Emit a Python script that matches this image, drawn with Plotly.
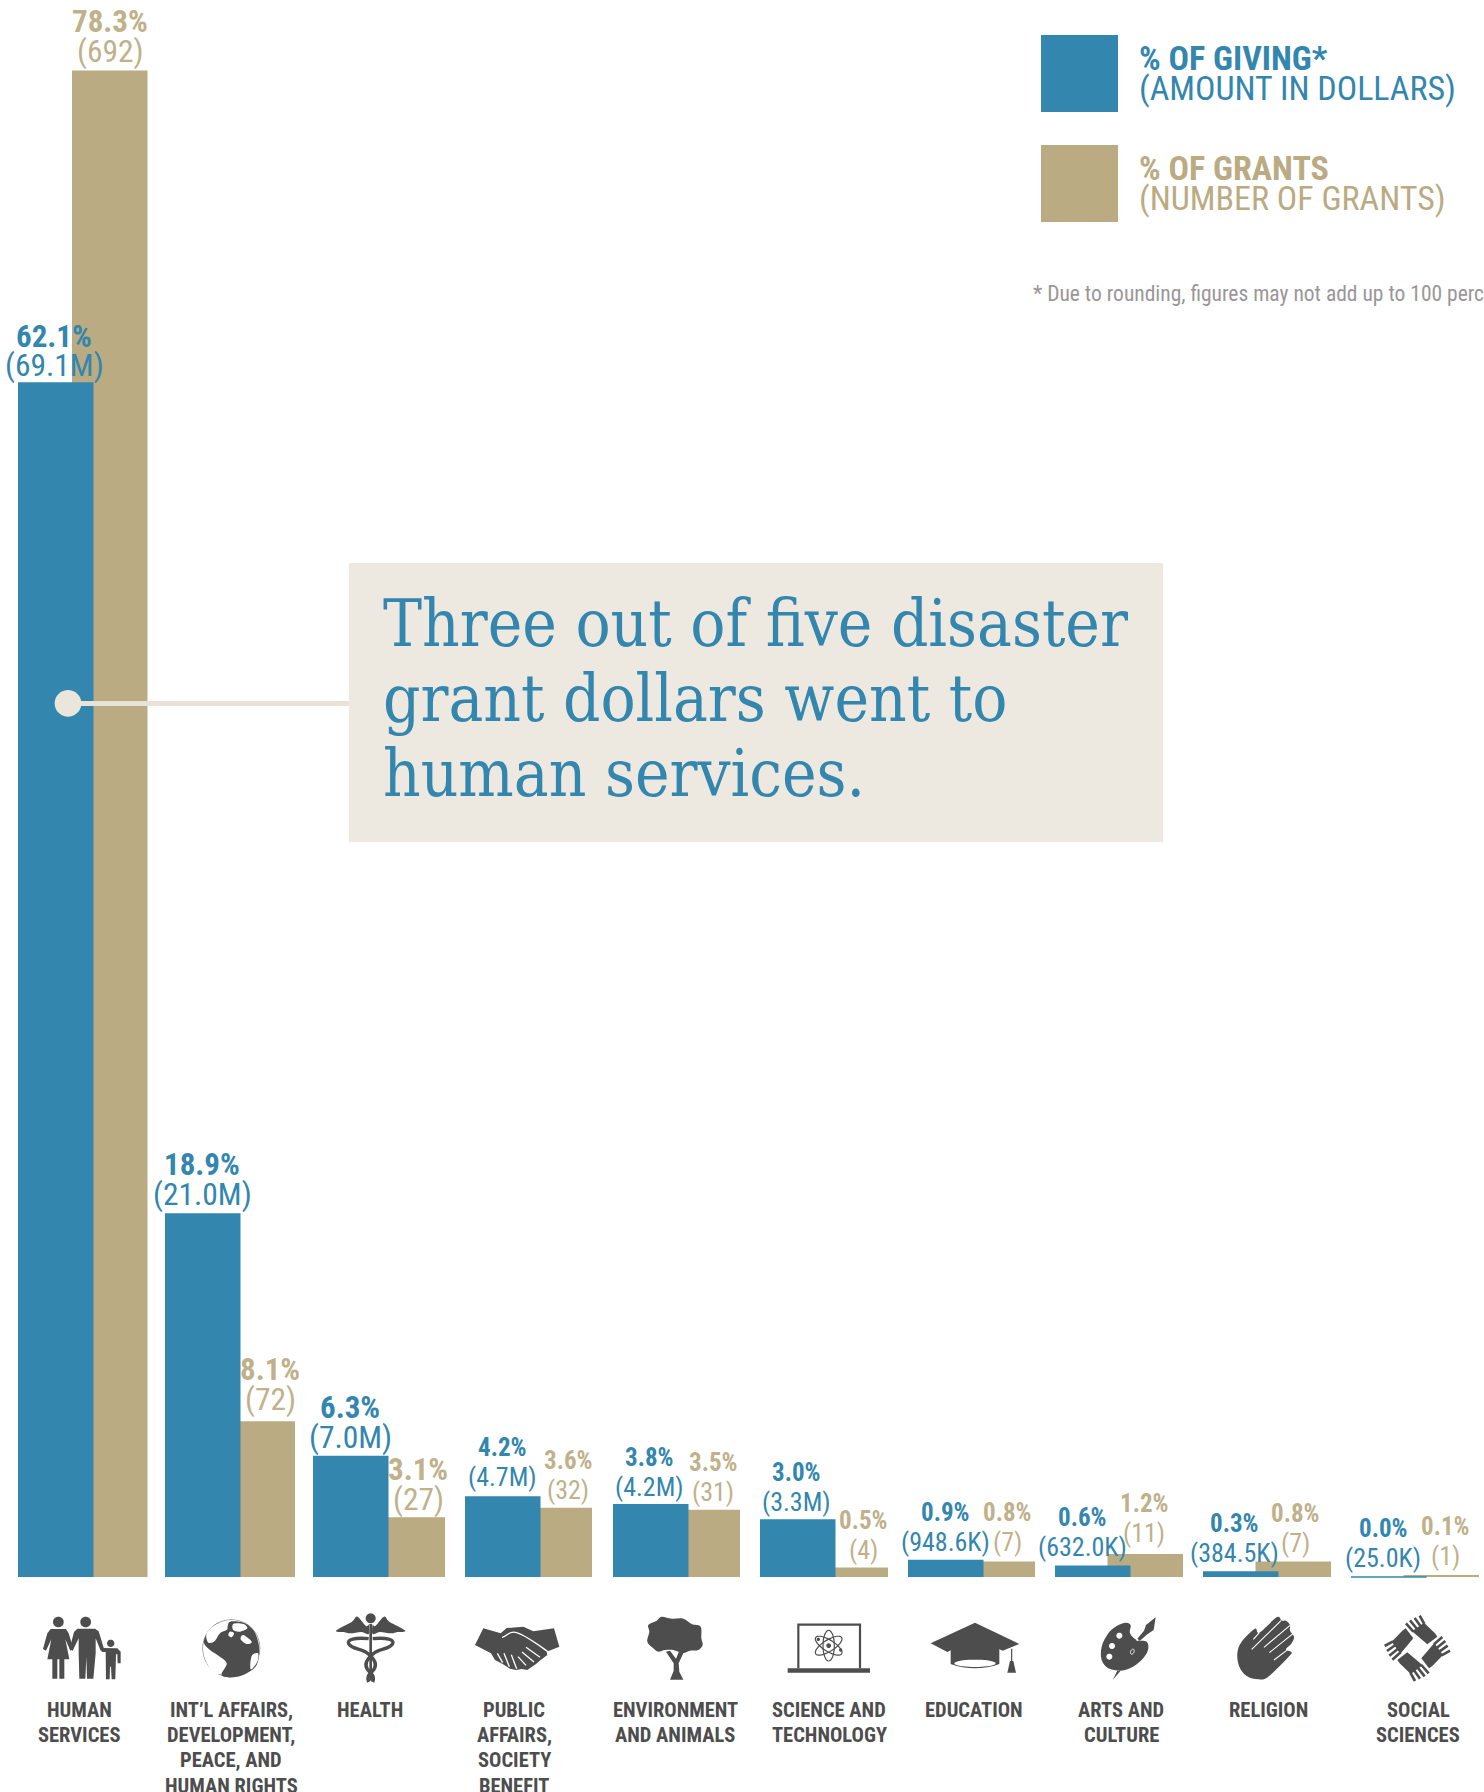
import math
import re
import plotly.graph_objects as go

# ---- Data -------------------------------------------------------------
categories = [
    ["HUMAN", "SERVICES"],
    ["INT\u2019L AFFAIRS,", "DEVELOPMENT,", "PEACE, AND", "HUMAN RIGHTS"],
    ["HEALTH"],
    ["PUBLIC", "AFFAIRS,", "SOCIETY", "BENEFIT"],
    ["ENVIRONMENT", "AND ANIMALS"],
    ["SCIENCE AND", "TECHNOLOGY"],
    ["EDUCATION"],
    ["ARTS AND", "CULTURE"],
    ["RELIGION"],
    ["SOCIAL", "SCIENCES"],
]
giving_pct = [62.1, 18.9, 6.3, 4.2, 3.8, 3.0, 0.9, 0.6, 0.3, 0.0]
grants_pct = [78.3, 8.1, 3.1, 3.6, 3.5, 0.5, 0.8, 1.2, 0.8, 0.1]
giving_amount = ["(69.1M)", "(21.0M)", "(7.0M)", "(4.7M)", "(4.2M)", "(3.3M)",
                 "(948.6K)", "(632.0K)", "(384.5K)", "(25.0K)"]
grants_count = ["(692)", "(72)", "(27)", "(32)", "(31)", "(4)", "(7)", "(11)", "(7)", "(1)"]

# ---- Page geometry ----------------------------------------------------
W, H = 1484, 1792
BASELINE_PX = 1577
PX_PER_PCT = 19.24
BAR_W = 75.5
blue_left = [18, 165, 313, 465, 613, 760, 908, 1055, 1203, 1351]
tan_right = [147.5, 295, 445, 592, 740, 888, 1035, 1183, 1331, 1479]
blue_label_x = [54, 202, 350, 502, 649, 797, 945, 1082, 1234, 1383]
tan_label_x = [110, 270, 418, 568, 713, 863, 1007, 1144, 1295, 1445]
blue_label_y = [336, 1164, 1407, 1447, 1457, 1472, 1512, 1517, 1523, 1528]
tan_label_y = [22, 1369, 1469, 1460, 1462, 1520, 1512, 1503, 1513, 1526]
label_big = [True, True, True, False, False, False, False, False, False, False]
category_x = [79, 231, 370, 514, 675, 829, 974, 1121, 1268, 1418]
category_y0 = 1710
category_step = 25.2

BLUE = "#3386ad"
TAN = "#baab82"
TAN_TEXT = "#c0b18b"
DARK = "#4d4d4d"
CREAM = "#ede8e0"
NARROW = "Roboto Condensed"
SLAB = "DejaVu Serif Condensed"


def px(x):
    return x / W


def py(y):
    return 1 - y / H


def icon_path(ox, oy, d):
    """Map an icon path drawn on a 3x grid with origin (ox, oy) onto paper coordinates."""
    out = []
    is_x = True
    for tok in re.findall(r"[MLCQZ]|-?\d+\.?\d*", d):
        if tok in "MLCQZ":
            out.append(tok)
            is_x = True
        elif is_x:
            out.append(f"{px(ox + float(tok) / 3):.6f}")
            is_x = False
        else:
            out.append(f"{py(oy + float(tok) / 3):.6f}")
            is_x = True
    s = ""
    i = 0
    while i < len(out):
        t = out[i]
        if t in "MLCQZ":
            s += t
            i += 1
        else:
            s += out[i] + "," + out[i + 1] + " "
            i += 2
    return s


def poly(points):
    return "M" + " L".join(f"{x} {y}" for x, y in points) + " Z"


def smooth(points):
    """Closed Catmull-Rom outline through the given points."""
    n = len(points)
    d = f"M{points[0][0]} {points[0][1]}"
    for i in range(n):
        p0, p1, p2, p3 = points[i - 1], points[i], points[(i + 1) % n], points[(i + 2) % n]
        c1 = (p1[0] + (p2[0] - p0[0]) / 6, p1[1] + (p2[1] - p0[1]) / 6)
        c2 = (p2[0] - (p3[0] - p1[0]) / 6, p2[1] - (p3[1] - p1[1]) / 6)
        d += f" C{c1[0]:.2f} {c1[1]:.2f} {c2[0]:.2f} {c2[1]:.2f} {p2[0]} {p2[1]}"
    return d + " Z"


def ellipse(cx, cy, rx, ry, deg=0):
    a = math.radians(deg)
    pts = []
    for k in range(40):
        t = 2 * math.pi * k / 40
        ex, ey = rx * math.cos(t), ry * math.sin(t)
        pts.append((round(cx + ex * math.cos(a) - ey * math.sin(a), 2),
                    round(cy + ex * math.sin(a) + ey * math.cos(a), 2)))
    return poly(pts)


def rect(x0, y0, x1, y1):
    return poly([(x0, y0), (x1, y0), (x1, y1), (x0, y1)])


def rotate_pts(points, cx, cy, quarter):
    out = []
    for x, y in points:
        dx, dy = x - cx, y - cy
        for _ in range(quarter):
            dx, dy = -dy, dx
        out.append((cx + dx, cy + dy))
    return out


shapes = []


def fill(ox, oy, d, color=DARK):
    shapes.append(dict(type="path", xref="paper", yref="paper", path=icon_path(ox, oy, d),
                       fillcolor=color, line=dict(width=0)))


def stroke(ox, oy, d, width, color=DARK):
    shapes.append(dict(type="path", xref="paper", yref="paper", path=icon_path(ox, oy, d),
                       fillcolor="rgba(0,0,0,0)", line=dict(width=width, color=color)))


# ---- Legend swatches, callout box and its connector -------------------
def box(x0, y0, x1, y1, color):
    shapes.append(dict(type="rect", xref="paper", yref="paper", x0=px(x0), x1=px(x1),
                       y0=py(y1), y1=py(y0), fillcolor=color, line=dict(width=0)))


box(1041, 35, 1118, 112, BLUE)
box(1041, 145, 1118, 222, TAN)
box(349, 563, 1163, 842, CREAM)
shapes.append(dict(type="line", xref="paper", yref="paper", x0=px(68), x1=px(349),
                   y0=py(703.5), y1=py(703.5), line=dict(color="#e9e3d7", width=5)))
shapes.append(dict(type="path", xref="paper", yref="paper",
                   path=icon_path(0, 0, ellipse(204, 2110, 40, 40)),
                   fillcolor="#ebe6da", line=dict(width=0)))

# ---- Category icons ---------------------------------------------------
# Family
ox, oy = 30, 1600
fill(ox, oy, ellipse(85, 66, 16, 16))
fill(ox, oy, poly([(62, 87), (108, 87), (116, 100), (130, 146), (121, 152), (106, 118),
                   (118, 178), (103, 178), (103, 236), (88, 236), (88, 178), (82, 178),
                   (82, 236), (67, 236), (67, 178), (52, 178), (64, 118), (48, 152), (39, 147), (52, 100)]))
fill(ox, oy, ellipse(167, 66, 16, 16))
fill(ox, oy, poly([(142, 86), (195, 86), (206, 94), (222, 146), (212, 152), (197, 115), (197, 160),
                   (190, 236), (171, 236), (169, 170), (166, 236), (148, 236), (146, 160), (146, 115),
                   (128, 152), (119, 146), (132, 96)]))
fill(ox, oy, ellipse(242, 130, 11, 11))
fill(ox, oy, poly([(212, 148), (216, 144), (262, 145), (272, 155), (272, 190), (263, 190), (262, 163),
                   (258, 163), (256, 238), (245, 238), (243, 200), (240, 200), (239, 238), (228, 238),
                   (227, 156), (216, 156)]))
# Globe
fill(ox, oy, ellipse(604, 145, 87, 87), "#8a8a8a")
fill(ox, oy, ellipse(604, 145, 85, 85), "#ffffff")
fill(ox, oy, smooth([(565, 70), (590, 82), (600, 65), (640, 68), (665, 85), (680, 110), (688, 150),
                     (680, 195), (650, 220), (610, 232), (575, 225), (590, 190), (562, 165),
                     (540, 150), (522, 130), (528, 105), (545, 85)]))
fill(ox, oy, smooth([(530, 100), (560, 72), (585, 72), (592, 88), (570, 100), (555, 122), (535, 128)]), "#ffffff")
fill(ox, oy, smooth([(522, 158), (555, 170), (572, 190), (568, 222), (540, 205)]), "#ffffff")
fill(ox, oy, smooth([(610, 72), (640, 72), (652, 85), (630, 95), (610, 90)]), "#ffffff")
fill(ox, oy, smooth([(665, 168), (684, 160), (682, 185), (662, 208)]), "#ffffff")
fill(ox, oy, smooth([(600, 95), (612, 100), (605, 112), (595, 106)]), "#ffffff")
fill(ox, oy, smooth([(640, 105), (665, 125), (650, 132), (632, 118)]), "#ffffff")
fill(ox, oy, smooth([(575, 125), (590, 135), (575, 150), (560, 140)]), DARK)

# Caduceus
ox, oy = 320, 1600
fill(ox, oy, ellipse(152, 55, 15, 15))
fill(ox, oy, smooth([(146, 74), (138, 78), (112, 50), (95, 66), (48, 92), (72, 96), (90, 100), (125, 96), (146, 102)]))
fill(ox, oy, smooth([(158, 74), (166, 78), (192, 50), (209, 66), (256, 92), (232, 96), (214, 100), (179, 96), (158, 102)]))
fill(ox, oy, rect(148, 72, 156, 242))
stroke(ox, oy, "M146 116 C105 112 80 118 86 131 C92 148 130 146 145 162 C165 178 172 192 162 208 C152 222 138 226 146 246", 3.4)
stroke(ox, oy, "M158 116 C199 112 224 118 218 131 C212 148 174 146 159 162 C139 178 132 192 142 208 C152 222 166 226 158 246", 3.4)

# Handshake
fill(ox, oy, poly([(490, 85), (542, 100), (560, 84), (610, 80), (640, 94), (702, 85), (718, 140), (680, 155),
                   (682, 165), (662, 180), (648, 192), (622, 210), (605, 207), (588, 210), (570, 206),
                   (548, 192), (525, 180), (513, 160), (465, 135)]))
stroke(ox, oy, "M546 112 C560 112 565 90 590 98 C615 105 655 135 684 155", 1.3, "#ffffff")
stroke(ox, oy, "M618 142 L660 172", 1.3, "#ffffff")
stroke(ox, oy, "M606 156 L642 186", 1.3, "#ffffff")
stroke(ox, oy, "M594 170 L618 196", 1.3, "#ffffff")
stroke(ox, oy, "M532 160 L548 188", 1.3, "#ffffff")
stroke(ox, oy, "M552 160 L568 200", 1.3, "#ffffff")
stroke(ox, oy, "M574 164 L590 206", 1.3, "#ffffff")

# Tree
ox, oy = 630, 1600
fill(ox, oy, smooth([(95, 50), (125, 56), (160, 56), (185, 72), (212, 80), (214, 115), (218, 135), (205, 150),
                     (180, 152), (160, 159), (130, 150), (105, 150), (85, 155), (70, 145), (52, 125),
                     (58, 95), (55, 75), (80, 62)]))
fill(ox, oy, poly([(120, 239), (131, 212), (131, 190), (108, 155), (120, 152), (138, 176), (148, 152),
                   (162, 155), (146, 190), (148, 215), (160, 239)]))

# Laptop with an atom on screen
stroke(ox, oy, "M505 205 L505 74 L690 74 L690 205", 2.2)
fill(ox, oy, rect(473, 205, 720, 218))
stroke(ox, oy, ellipse(596, 137, 17, 46), 1.2)
stroke(ox, oy, ellipse(596, 137, 17, 46, 58), 1.2)
stroke(ox, oy, ellipse(596, 137, 17, 46, -58), 1.2)
fill(ox, oy, ellipse(596, 137, 7, 7))
fill(ox, oy, ellipse(632, 150, 5, 5))
fill(ox, oy, ellipse(565, 118, 5, 5))

# Mortarboard
ox, oy = 920, 1600
fill(ox, oy, "M165 68 L298 132 L248 152 Q165 105 82 156 L32 130 Z")
fill(ox, oy, "M92 143 Q165 112 238 143 L238 192 Q165 218 92 192 Z")
fill(ox, oy, ellipse(165, 190, 62, 11), "#ffffff")
stroke(ox, oy, "M275 146 L275 190", 1.2)
fill(ox, oy, poly([(270, 183), (280, 183), (288, 218), (262, 218)]))

# Palette and brush
fill(ox, oy, smooth([(618, 68), (632, 76), (630, 100), (650, 120), (680, 125), (684, 150), (665, 180),
                     (630, 205), (600, 212), (565, 205), (545, 180), (545, 140), (565, 100), (590, 78)]))
fill(ox, oy, ellipse(598, 107, 9, 9), "#ffffff")
fill(ox, oy, ellipse(576, 138, 9, 9), "#ffffff")
fill(ox, oy, ellipse(568, 170, 9, 9), "#ffffff")
stroke(ox, oy, ellipse(637, 155, 5, 8, 25), 1, "#ffffff")
fill(ox, oy, poly([(578, 240), (592, 212), (602, 212)]))
stroke(ox, oy, "M650 122 L680 96", 1.6, "#ffffff")
fill(ox, oy, poly([(707, 52), (701, 90), (682, 103), (660, 122), (652, 116), (672, 92), (678, 75)]))

# Praying hands
ox, oy = 1200, 1600
fill(ox, oy, smooth([(112, 160), (125, 125), (165, 86), (178, 98), (230, 52), (245, 62), (258, 62), (270, 75),
                     (270, 92), (282, 110), (275, 130), (258, 148), (273, 155), (268, 168), (205, 230),
                     (175, 238), (140, 228), (118, 200)]))
stroke(ox, oy, "M155 148 L243 62", 1.1, "#ffffff")
stroke(ox, oy, "M192 142 L270 76", 1.1, "#ffffff")
stroke(ox, oy, "M208 158 L280 100", 1.1, "#ffffff")
stroke(ox, oy, "M222 180 L268 145", 1.1, "#ffffff")
stroke(ox, oy, "M178 98 L160 118", 1.1, "#ffffff")

# Four interlocking hands
cx, cy = 652, 145
palm = [(636, 94), (672, 68), (705, 100), (712, 110), (682, 133)]
fingers = [[(640, 95), (618, 70)], [(651, 87), (630, 61)], [(662, 79), (644, 54)], [(673, 72), (659, 47)]]
for q in range(4):
    fill(ox, oy, poly(rotate_pts(palm, cx, cy, q)))
    for f in fingers:
        a, b = rotate_pts(f, cx, cy, q)
        stroke(ox, oy, f"M{a[0]} {a[1]} L{b[0]} {b[1]}", 2.6)

# ---- Bars -------------------------------------------------------------
blue_x = [l + BAR_W / 2 for l in blue_left]
tan_x = [r - BAR_W / 2 for r in tan_right]
# Zero-valued bars keep a hairline so the category still shows a mark.
blue_line = [1 if v == 0 else 0 for v in giving_pct]

fig = go.Figure()
fig.add_bar(x=tan_x, y=grants_pct, width=BAR_W, marker=dict(color=TAN, line=dict(width=0)),
            name="% of grants", hoverinfo="skip")
fig.add_bar(x=blue_x, y=giving_pct, width=BAR_W,
            marker=dict(color=BLUE, line=dict(width=blue_line, color=BLUE)),
            name="% of giving", hoverinfo="skip")

# ---- Text -------------------------------------------------------------
annotations = []


def text(x, y, s, size, color, family=NARROW, anchor="center", bold=False):
    annotations.append(dict(x=px(x), y=py(y), xref="paper", yref="paper", showarrow=False,
                            text=f"<b>{s}</b>" if bold else s, xanchor=anchor, yanchor="middle",
                            font=dict(family=family, size=size, color=color), borderpad=0, borderwidth=0))


LINE_GAP = 30
for i in range(len(categories)):
    big = label_big[i]
    pct_size, amt_size = (31, 31.5) if big else (25, 26)
    text(blue_label_x[i], blue_label_y[i], f"{giving_pct[i]:.1f}%", pct_size, BLUE, bold=True)
    text(blue_label_x[i], blue_label_y[i] + LINE_GAP, giving_amount[i], amt_size, BLUE)
    text(tan_label_x[i], tan_label_y[i], f"{grants_pct[i]:.1f}%", pct_size, TAN_TEXT, bold=True)
    text(tan_label_x[i], tan_label_y[i] + LINE_GAP, grants_count[i], amt_size, TAN_TEXT)
    for j, line in enumerate(categories[i]):
        text(category_x[i], category_y0 + j * category_step, line, 20.5, DARK, bold=True)

text(1139, 58, "% OF GIVING*", 34, BLUE, anchor="left", bold=True)
text(1139, 88, "(AMOUNT IN DOLLARS)", 34, BLUE, anchor="left")
text(1139, 168, "% OF GRANTS", 34, TAN, anchor="left", bold=True)
text(1139, 198, "(NUMBER OF GRANTS)", 34, TAN, anchor="left")
text(1033, 293, "* Due to rounding, figures may not add up to 100 percent.", 21.5, "#9a9698", anchor="left")

for y, line in zip((623, 698, 773), ("Three out of five disaster", "grant dollars went to", "human services.")):
    text(383, y, line, 65, BLUE, family=SLAB, anchor="left")

fig.update_layout(
    width=W, height=H, margin=dict(l=0, r=0, t=0, b=0), autosize=False,
    paper_bgcolor="white", plot_bgcolor="white", barmode="overlay", showlegend=False,
    xaxis=dict(range=[0, W], visible=False, fixedrange=True),
    yaxis=dict(range=[(BASELINE_PX - H) / PX_PER_PCT, BASELINE_PX / PX_PER_PCT], visible=False, fixedrange=True),
    shapes=shapes, annotations=annotations,
)
fig.write_html("out.html", config=dict(displayModeBar=False))
